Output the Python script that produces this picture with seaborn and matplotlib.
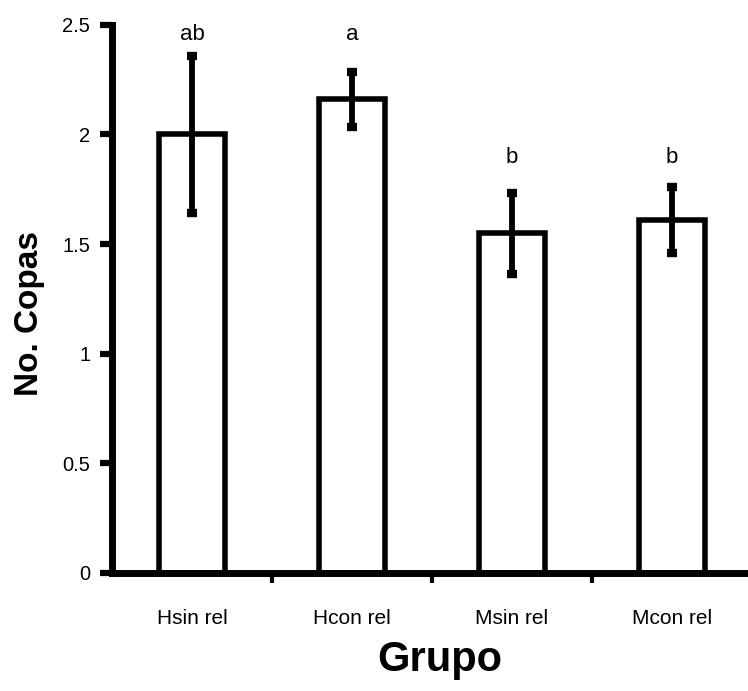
import matplotlib
matplotlib.use("Agg")
import matplotlib.pyplot as plt
import seaborn as sns
import pandas as pd
from matplotlib.ticker import FixedLocator

# Mean number of copies per group with the error (±) and significance letters
grupos = ["Hsin rel", "Hcon rel", "Msin rel", "Mcon rel"]
medias = [2.00, 2.16, 1.55, 1.61]
errores = [0.36, 0.125, 0.185, 0.15]
letras = ["ab", "a", "b", "b"]
altura_letras = [2.43, 2.43, 1.87, 1.87]
yticks = [0, 0.5, 1, 1.5, 2, 2.5]
ytick_labels = ["0", "0.5", "1", "1.5", "2", "2.5"]

sns.set_style("ticks")
plt.rcParams["font.family"] = ["Liberation Sans", "DejaVu Sans"]
plt.rcParams["text.color"] = "black"
plt.rcParams["axes.labelcolor"] = "black"
plt.rcParams["xtick.color"] = "black"
plt.rcParams["ytick.color"] = "black"

df = pd.DataFrame({"Grupo": grupos, "Copas": medias})

fig = plt.figure(figsize=(7.48, 6.91), dpi=100)
ax = fig.add_axes([0.1497, 0.171, 0.8503, 0.793])

sns.barplot(data=df, x="Grupo", y="Copas", order=grupos, color="white",
            edgecolor="black", linewidth=4, width=0.41, errorbar=None,
            saturation=1, ax=ax)
for bar in ax.patches:
    bar.set_facecolor("white")
    bar.set_joinstyle("miter")

ax.errorbar(range(len(grupos)), medias, yerr=errores, fmt="none",
            ecolor="black", elinewidth=4.2, capsize=3.6, capthick=6,
            zorder=5)

for i, (txt, h) in enumerate(zip(letras, altura_letras)):
    ax.text(i, h, txt, ha="center", va="baseline", fontsize=16,
            color="black")

ax.set_ylim(0, 2.5)
ax.set_xlim(-0.5, 3.475)
ax.set_yticks(yticks)
ax.set_yticklabels(ytick_labels, fontsize=14.5, color="black")
ax.set_xticks(range(len(grupos)))
ax.set_xticklabels(grupos, fontsize=15, color="black")
ax.xaxis.set_minor_locator(FixedLocator([0.5, 1.5, 2.5]))

ax.tick_params(axis="y", which="major", direction="out", length=8.6,
               width=4.5, pad=7, color="black")
ax.tick_params(axis="x", which="major", length=0, pad=26)
ax.tick_params(axis="x", which="minor", direction="out", length=7.5,
               width=3, color="black")

for side in ["top", "right"]:
    ax.spines[side].set_visible(False)
for side in ["left", "bottom"]:
    ax.spines[side].set_linewidth(5)
    ax.spines[side].set_color("black")

ax.set_xlabel("Grupo", fontsize=30, fontweight="bold", color="black")
ax.xaxis.set_label_coords((440 - 112) / (748 - 112), -0.122)
ax.set_ylabel("No. Copas", fontsize=24, fontweight="bold", color="black")
ax.yaxis.set_label_coords(-0.106, 0.473)

fig.savefig("out.png", dpi=100, facecolor="white")
